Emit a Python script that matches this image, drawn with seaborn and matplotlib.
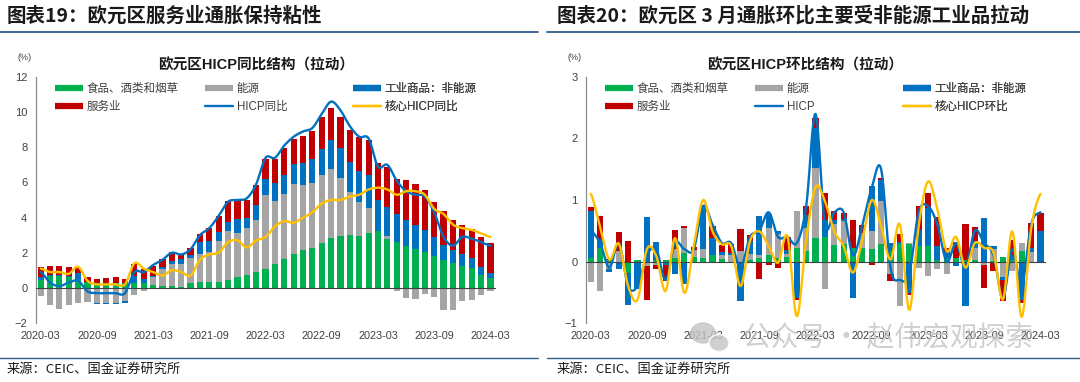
import numpy as np
import pandas as pd
import matplotlib
matplotlib.use("Agg")
import matplotlib.pyplot as plt
import matplotlib.transforms as mtransforms
from matplotlib.lines import Line2D
from matplotlib.patches import Ellipse
import seaborn as sns

# 月份 2020-03 ~ 2024-03
months = pd.period_range("2020-03", "2024-03", freq="M").strftime("%Y-%m").tolist()
tick_labels = months[::6]

# 欧元区HICP同比拉动（%）
yoy_food = [0.44, 0.70, 0.68, 0.60, 0.42, 0.32, 0.28, 0.28, 0.30, 0.27,
            0.30, 0.25, 0.18, 0.08, 0.08, 0.06, 0.28, 0.35, 0.36, 0.36,
            0.42, 0.60, 0.74, 0.89, 1.08, 1.35, 1.62, 1.90, 2.14, 2.29,
            2.58, 2.84, 2.95, 2.99, 2.97, 3.14, 3.22, 2.80, 2.63, 2.40,
            2.23, 2.05, 1.84, 1.57, 1.42, 1.27, 1.14, 0.76, 0.55]
yoy_energy = [-0.47, -0.98, -1.18, -0.98, -0.87, -0.80, -0.86, -0.86, -0.86, -0.72,
              -0.38, -0.19, 0.45, 1.00, 1.27, 1.30, 1.40, 1.55, 1.70, 2.28,
              2.80, 2.55, 2.65, 3.00, 4.19, 3.57, 3.74, 4.00, 3.73, 3.68,
              3.86, 3.94, 3.30, 2.45, 1.90, 1.40, -0.05, 0.15, -0.20, -0.60,
              -0.65, -0.35, -0.50, -1.25, -1.27, -0.75, -0.70, -0.40, -0.20]
yoy_neig = [0.20, 0.05, 0.04, 0.05, 0.40, -0.02, -0.05, -0.05, -0.06, -0.12,
            0.36, 0.25, 0.07, 0.12, 0.20, 0.28, 0.20, 0.72, 0.62, 0.56,
            0.50, 0.77, 0.60, 0.80, 0.90, 1.05, 1.08, 1.15, 1.23, 1.38,
            1.48, 1.65, 1.70, 1.70, 1.78, 1.86, 1.78, 1.68, 1.55, 1.45,
            1.35, 1.25, 1.05, 0.88, 0.75, 0.65, 0.55, 0.45, 0.30]
yoy_services = [0.55, 0.52, 0.55, 0.54, 0.31, 0.30, 0.25, 0.26, 0.29, 0.26,
                0.67, 0.60, 0.57, 0.45, 0.51, 0.31, 0.39, 0.47, 0.73, 0.90,
                1.24, 1.04, 1.00, 1.14, 1.18, 1.36, 1.51, 1.43, 1.57, 1.59,
                1.78, 1.83, 1.75, 1.84, 1.91, 2.03, 2.10, 2.23, 2.02, 2.29,
                2.32, 2.27, 2.00, 1.94, 1.69, 1.68, 1.66, 1.71, 1.73]
yoy_hicp = [0.9, 0.3, 0.1, 0.3, 0.4, -0.2, -0.3, -0.3, -0.3, -0.3,
            0.9, 0.9, 1.3, 1.6, 2.0, 1.9, 2.2, 3.0, 3.4, 4.1,
            4.9, 5.0, 5.1, 5.9, 7.4, 7.4, 8.1, 8.6, 8.9, 9.1,
            9.9, 10.6, 10.1, 9.2, 8.6, 8.5, 6.9, 7.0, 6.1, 5.5,
            5.3, 5.2, 4.3, 2.9, 2.4, 2.9, 2.8, 2.6, 2.4]
yoy_core = [1.1, 0.9, 0.9, 0.8, 1.2, 0.4, 0.2, 0.2, 0.2, 0.2,
            1.4, 1.1, 0.9, 0.7, 1.0, 0.9, 0.7, 1.6, 1.9, 2.0,
            2.6, 2.7, 2.3, 2.7, 2.9, 3.5, 3.8, 3.7, 4.0, 4.3,
            4.8, 5.0, 5.0, 5.2, 5.3, 5.6, 5.7, 5.6, 5.3, 5.5,
            5.5, 5.3, 4.5, 4.2, 3.6, 3.4, 3.3, 3.1, 2.9]

# 欧元区HICP环比拉动（%）
mom_food = [0.06, 0.22, 0.02, 0.00, -0.18, 0.02, -0.02, 0.03, 0.02, 0.06,
            0.14, 0.08, 0.05, 0.11, 0.04, -0.03, 0.00, 0.03, 0.05, 0.10,
            0.05, 0.08, 0.22, 0.17, 0.38, 0.40, 0.27, 0.29, 0.22, 0.22,
            0.20, 0.29, 0.17, 0.29, 0.28, 0.25, 0.25, 0.03, 0.05, 0.06,
            0.02, 0.02, 0.00, 0.01, 0.07, 0.03, 0.17, 0.00, -0.01]
mom_energy = [-0.34, -0.48, -0.12, 0.17, 0.00, -0.03, -0.05, -0.05, 0.00, 0.14,
              0.41, 0.10, 0.16, 0.00, 0.06, 0.10, 0.17, 0.10, 0.06, 0.45,
              0.40, 0.05, 0.60, 0.38, 1.14, -0.44, 0.34, 0.37, 0.00, 0.25,
              0.29, 0.69, -0.21, -0.72, 0.02, -0.10, -0.23, -0.13, -0.21, 0.00,
              0.00, 0.20, -0.05, 0.20, -0.25, -0.15, 0.13, 0.15, 0.00]
mom_neig = [0.76, 0.14, -0.05, -0.13, -0.52, -0.42, 0.72, 0.28, -0.05, -0.20,
            -0.36, -0.03, 0.68, 0.27, 0.05, 0.04, -0.65, 0.20, 0.63, 0.22,
            0.05, 0.05, -0.60, 0.20, 0.65, 0.28, 0.07, 0.03, -0.60, 0.00,
            0.73, 0.34, 0.13, 0.03, -0.51, 0.27, 0.62, 0.22, 0.10, -0.08,
            -0.73, 0.12, 0.70, 0.05, -0.05, 0.07, -0.62, 0.07, 0.49]
mom_services = [0.07, 0.38, 0.02, 0.31, 0.34, 0.00, -0.55, -0.08, -0.27, 0.32,
                0.02, 0.05, 0.03, 0.19, 0.12, 0.15, 0.36, 0.10, -0.28, -0.05,
                -0.10, 0.22, -0.03, 0.16, 0.17, 0.44, 0.14, 0.10, 0.46, 0.13,
                -0.06, 0.03, -0.11, 0.12, -0.03, 0.39, 0.25, 0.48, 0.07, 0.26,
                0.59, 0.22, -0.38, -0.15, -0.35, 0.25, -0.06, 0.41, 0.30]
mom_hicp = [0.5, 0.3, -0.1, 0.3, -0.4, -0.4, 0.1, 0.2, -0.3, 0.3,
            0.2, 0.2, 0.9, 0.6, 0.3, 0.3, -0.1, 0.4, 0.5, 0.8,
            0.4, 0.4, 0.3, 0.9, 2.4, 0.6, 0.8, 0.8, 0.1, 0.6,
            1.2, 1.5, -0.1, -0.3, -0.2, 0.8, 0.9, 0.6, 0.0, 0.3,
            -0.1, 0.5, 0.3, 0.1, -0.6, 0.2, -0.4, 0.6, 0.8]
mom_core = [1.1, 0.57, 0.03, 0.29, -0.4, -0.62, 0.2, 0.09, -0.48, 0.38,
            -0.51, 0.25, 1.0, 0.49, 0.28, 0.25, -0.4, 0.33, 0.49, 0.25,
            -0.02, 0.41, -0.89, 0.36, 1.21, 0.98, 0.49, 0.25, -0.18, 0.36,
            1.0, 0.57, 0.03, 0.6, -0.79, 0.57, 1.3, 0.85, 0.17, 0.4,
            -0.1, 0.3, 0.22, 0.14, -0.62, 0.49, -0.9, 0.52, 1.1]

comp_names = ["食品、酒类和烟草", "能源", "工业商品：非能源", "服务业"]
comp_colors = ["#00B050", "#A5A5A5", "#0070C0", "#C00000"]
hicp_color = "#0070C0"
core_color = "#FFC000"

W, H = 1080, 382


def smooth(values, n=12):
    # Excel 风格平滑线（Catmull-Rom）
    y = np.asarray(values, dtype=float)
    p = np.concatenate([[y[0]], y, [y[-1]]])
    xs, ys = [], []
    t = np.linspace(0, 1, n, endpoint=False)
    for i in range(len(y) - 1):
        p0, p1, p2, p3 = p[i], p[i + 1], p[i + 2], p[i + 3]
        ys.append(0.5 * (2 * p1 + (-p0 + p2) * t + (2 * p0 - 5 * p1 + 4 * p2 - p3) * t ** 2
                         + (-p0 + 3 * p1 - 3 * p2 + p3) * t ** 3))
        xs.append(i + t)
    xs.append([len(y) - 1])
    ys.append([y[-1]])
    return np.concatenate(xs), np.concatenate(ys)


def draw_panel(ax, comps, hicp, core, ylim, yticks, line_names):
    idx = np.arange(len(months))
    pos = np.zeros(len(idx))
    neg = np.zeros(len(idx))
    for vals, c in zip(comps, comp_colors):
        v = np.asarray(vals, dtype=float)
        bottom = np.where(v >= 0, pos, neg)
        sns.barplot(x=idx, y=v, bottom=bottom, native_scale=True, color=c, saturation=1,
                    width=0.66, errorbar=None, linewidth=0, ax=ax)
        pos += np.where(v > 0, v, 0)
        neg += np.where(v < 0, v, 0)

    for vals, c in [(hicp, hicp_color), (core, core_color)]:
        sx, sy = smooth(vals)
        sns.lineplot(x=sx, y=sy, color=c, linewidth=1.7, sort=False, ax=ax, zorder=4)

    ax.set_xlim(-0.53, len(idx) - 0.47)
    ax.set_ylim(*ylim)
    ax.set_yticks(yticks)
    ax.set_yticklabels([f"{t:g}".replace("-", "\u2212") for t in yticks])
    ax.set_xlabel("")
    ax.set_ylabel("")
    ax.grid(False)
    for s in ["top", "right"]:
        ax.spines[s].set_visible(False)
    ax.spines["left"].set_color("#8c8c8c")
    ax.spines["left"].set_linewidth(0.9)
    ax.spines["bottom"].set_position(("data", 0))
    ax.spines["bottom"].set_color("#404040")
    ax.spines["bottom"].set_linewidth(0.8)
    ax.spines["bottom"].set_zorder(3)
    ax.set_xticks(np.arange(-0.5, len(idx), 6))
    ax.tick_params(axis="x", direction="out", length=3, width=0.8, color="#404040",
                   labelbottom=False)
    ax.tick_params(axis="y", direction="out", length=3, width=0.8, color="#8c8c8c",
                   labelsize=8, labelcolor="#404040", pad=3)

    trans = mtransforms.blended_transform_factory(ax.transData, ax.transAxes)
    for i, lab in zip(range(0, len(idx), 6), tick_labels):
        ax.text(i, -0.053, lab, transform=trans, ha="center", va="center",
                fontsize=7.8, color="#404040", zorder=5)

    # 图例：三列两行
    handles = [Line2D([], [], color=c, lw=4.5, solid_capstyle="butt") for c in comp_colors]
    handles += [Line2D([], [], color=hicp_color, lw=1.7),
                Line2D([], [], color=core_color, lw=1.7)]
    labels = comp_names + line_names
    cols = [(0, 3), (1, 4), (2, 5)]
    xs = [0.042, 0.368, 0.69]
    for (a, b), x in zip(cols, xs):
        leg = ax.legend([handles[a], handles[b]], [labels[a], labels[b]],
                        loc="upper left", bbox_to_anchor=(x, 0.975), frameon=False,
                        borderpad=0, borderaxespad=0, handlelength=2.4,
                        handletextpad=0.35, labelspacing=0.5, fontsize=8.3,
                        labelcolor="#404040")
        ax.add_artist(leg)


sns.set_theme(style="white")
plt.rcParams["font.family"] = ["Liberation Sans", "Noto Sans CJK SC", "DejaVu Sans"]
plt.rcParams["axes.unicode_minus"] = True

fig = plt.figure(figsize=(W / 100, H / 100), dpi=100)
fig.patch.set_facecolor("white")

ax_w = 459.7 / W
ax_h = 246 / H
ax_b = (H - 323) / H
ax1 = fig.add_axes([35.7 / W, ax_b, ax_w, ax_h])
ax2 = fig.add_axes([585.7 / W, ax_b, ax_w, ax_h])

draw_panel(ax1, [yoy_food, yoy_energy, yoy_neig, yoy_services], yoy_hicp, yoy_core,
           (-2, 12), [-2, 0, 2, 4, 6, 8, 10, 12], ["HICP同比", "核心HICP同比"])
draw_panel(ax2, [mom_food, mom_energy, mom_neig, mom_services], mom_hicp, mom_core,
           (-1, 3), [-1, 0, 1, 2, 3], ["HICP", "核心HICP环比"])

cjk = ["Noto Sans CJK SC", "DejaVu Sans"]
title_kw = dict(fontsize=14, fontweight="bold", color="#1a1a1a", va="center", family=cjk)
fig.text(7 / W, 1 - 16 / H, "图表19：欧元区服务业通胀保持粘性", **title_kw)
fig.text(557 / W, 1 - 16 / H, "图表20：欧元区 3 月通胀环比主要受非能源工业品拉动", **title_kw)

line_color = "#2F5D8A"
for x0, x1 in [(0, 538), (547, 1080)]:
    fig.add_artist(Line2D([x0 / W, x1 / W], [1 - 32 / H] * 2, color=line_color, lw=1.3))
    fig.add_artist(Line2D([x0 / W, x1 / W], [1 - 358 / H] * 2, color=line_color, lw=1.0))

sub_kw = dict(fontsize=10.5, fontweight="bold", color="#1a1a1a", ha="center", va="center",
              family=["Liberation Sans", "Noto Sans CJK SC"])
fig.text(256 / W, 1 - 65 / H, "欧元区HICP同比结构（拉动）", **sub_kw)
fig.text(805 / W, 1 - 65 / H, "欧元区HICP环比结构（拉动）", **sub_kw)

fig.text(25 / W, 1 - 57 / H, "(%)", fontsize=6.5, color="#404040", ha="center", va="center")
fig.text(575 / W, 1 - 57 / H, "(%)", fontsize=6.5, color="#404040", ha="center", va="center")

src_kw = dict(fontsize=9.5, color="#1a1a1a", va="center", family=cjk)
fig.text(7 / W, 1 - 369 / H, "来源：CEIC、国金证券研究所", **src_kw)
fig.text(557 / W, 1 - 369 / H, "来源：CEIC、国金证券研究所", **src_kw)

# 水印（公众号图标 + 文字）
wm = "#c4c4c4"
fig.add_artist(Ellipse((703 / W, 1 - 333 / H), 24 / W, 20 / H, color=wm, alpha=0.8, zorder=9))
fig.add_artist(Ellipse((719 / W, 1 - 343 / H), 20 / W, 17 / H, color=wm, alpha=0.8, zorder=9,
                       ec="white", lw=1.2))
fig.text(743 / W, 1 - 338 / H, "公众号 · 赵伟宏观探索", fontsize=20, color=wm,
         alpha=0.8, va="center", family=cjk, zorder=10)

fig.savefig("out.png", dpi=100, facecolor="white")
